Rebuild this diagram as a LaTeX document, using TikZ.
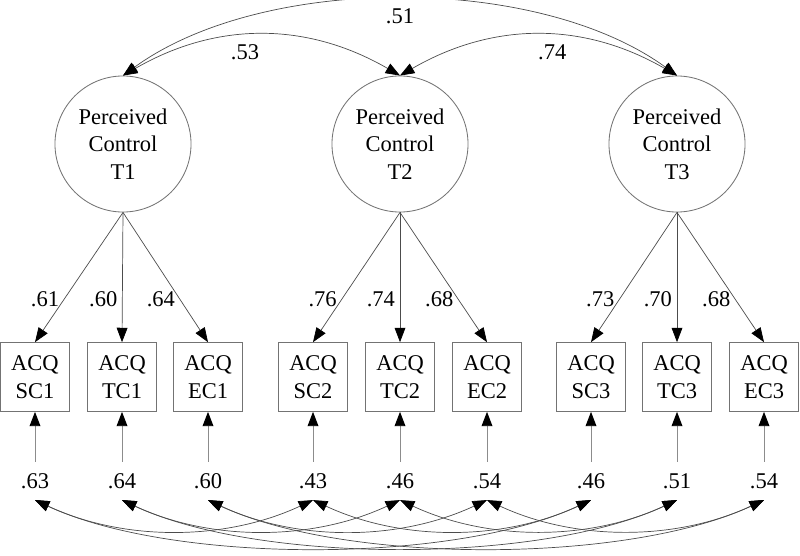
\documentclass[tikz,border=0pt]{standalone}
\usepackage{fontspec}
\setmainfont{Liberation Serif}
\usetikzlibrary{arrows.meta}
\def\headtip{Triangle[length=0.36cm,width=0.27cm,color=black]}

\begin{document}
\begin{tikzpicture}[x=0.025cm,y=-0.025cm,
		font=\fontsize{16}{19.5}\selectfont,
		factor/.style={circle,draw=black!55,line width=0.6pt,minimum size=3.4cm,inner sep=0pt,align=center},
		item/.style={rectangle,draw=black!55,line width=0.6pt,minimum size=1.72cm,inner sep=0pt,align=center},
		resid/.style={inner xsep=0pt,inner ysep=0.28cm},
		loading/.style={draw=black!70,line width=0.5pt,-{\headtip}},
		errline/.style={draw=black!45,line width=0.7pt,-{\headtip}},
		covar/.style={draw=black!70,line width=0.5pt,{\headtip}-{\headtip}}]
			%%%%% START %%%%%
			\useasboundingbox (0,0) rectangle (800,556);
			
			% latent factors
			\node[factor] (pc1) at (123,144) {Perceived\\Control\\T1};
			\node[factor] (pc2) at (400,144) {Perceived\\Control\\T2};
			\node[factor] (pc3) at (677,144) {Perceived\\Control\\T3};
			
			% indicators
			\node[item] (sc1) at (35,377) {ACQ\\SC1};
			\node[item] (tc1) at (122,377) {ACQ\\TC1};
			\node[item] (ec1) at (208,377) {ACQ\\EC1};
			
			\node[item] (sc2) at (313,377) {ACQ\\SC2};
			\node[item] (tc2) at (400,377) {ACQ\\TC2};
			\node[item] (ec2) at (487,377) {ACQ\\EC2};
			
			\node[item] (sc3) at (591,377) {ACQ\\SC3};
			\node[item] (tc3) at (677,377) {ACQ\\TC3};
			\node[item] (ec3) at (764,377) {ACQ\\EC3};
			
			% residuals
			\node[resid] (esc1) at (35,481) {.63};
			\node[resid] (etc1) at (122,481) {.64};
			\node[resid] (eec1) at (208,481) {.60};
			\node[resid] (esc2) at (313,481) {.43};
			\node[resid] (etc2) at (400,481) {.46};
			\node[resid] (eec2) at (487,481) {.54};
			\node[resid] (esc3) at (591,481) {.46};
			\node[resid] (etc3) at (677,481) {.51};
			\node[resid] (eec3) at (764,481) {.54};
			
			% factor correlations
			\draw[covar] (pc1.north) to[out=30,in=150] node[pos=0.44,below=3pt] {.53} (pc2.north);
			\draw[covar] (pc2.north) to[out=30,in=150] node[pos=0.55,below=3pt] {.74} (pc3.north);
			\draw[covar] (pc1.north) to[out=36,in=144,looseness=0.8] node[pos=0.5,below=3pt] {.51} (pc3.north);
			
			% loadings
			\draw[loading] (pc1.south) -- node[pos=0.67,left] {.61} (sc1.north);
			\draw[loading] (pc1.south) -- node[pos=0.67,left] {.60} (tc1.north);
			\draw[loading] (pc1.south) -- node[pos=0.67,left] {.64} (ec1.north);
			
			\draw[loading] (pc2.south) -- node[pos=0.67,left] {.76} (sc2.north);
			\draw[loading] (pc2.south) -- node[pos=0.67,left] {.74} (tc2.north);
			\draw[loading] (pc2.south) -- node[pos=0.67,left] {.68} (ec2.north);
			
			\draw[loading] (pc3.south) -- node[pos=0.67,left] {.73} (sc3.north);
			\draw[loading] (pc3.south) -- node[pos=0.67,left] {.70} (tc3.north);
			\draw[loading] (pc3.south) -- node[pos=0.67,left] {.68} (ec3.north);
			
			% error terms
			\draw[errline] (esc1) -- (sc1);
			\draw[errline] (etc1) -- (tc1);
			\draw[errline] (eec1) -- (ec1);
			\draw[errline] (esc2) -- (sc2);
			\draw[errline] (etc2) -- (tc2);
			\draw[errline] (eec2) -- (ec2);
			\draw[errline] (esc3) -- (sc3);
			\draw[errline] (etc3) -- (tc3);
			\draw[errline] (eec3) -- (ec3);
			
			% correlated residuals
			\draw[covar] (esc1.south) to[out=-25,in=-155,looseness=0.9] (esc2.south);
			\draw[covar] (esc2.south) to[out=-25,in=-155,looseness=0.9] (esc3.south);
			\draw[covar] (esc1.south) to[out=-25,in=-155,looseness=0.7] (esc3.south);
			
			\draw[covar] (etc1.south) to[out=-25,in=-155,looseness=0.9] (etc2.south);
			\draw[covar] (etc2.south) to[out=-25,in=-155,looseness=0.9] (etc3.south);
			\draw[covar] (etc1.south) to[out=-25,in=-155,looseness=0.7] (etc3.south);
			
			\draw[covar] (eec1.south) to[out=-25,in=-155,looseness=0.9] (eec2.south);
			\draw[covar] (eec2.south) to[out=-25,in=-155,looseness=0.9] (eec3.south);
			\draw[covar] (eec1.south) to[out=-25,in=-155,looseness=0.7] (eec3.south);
			
			%%%%% END %%%%%
\end{tikzpicture}
\end{document}
